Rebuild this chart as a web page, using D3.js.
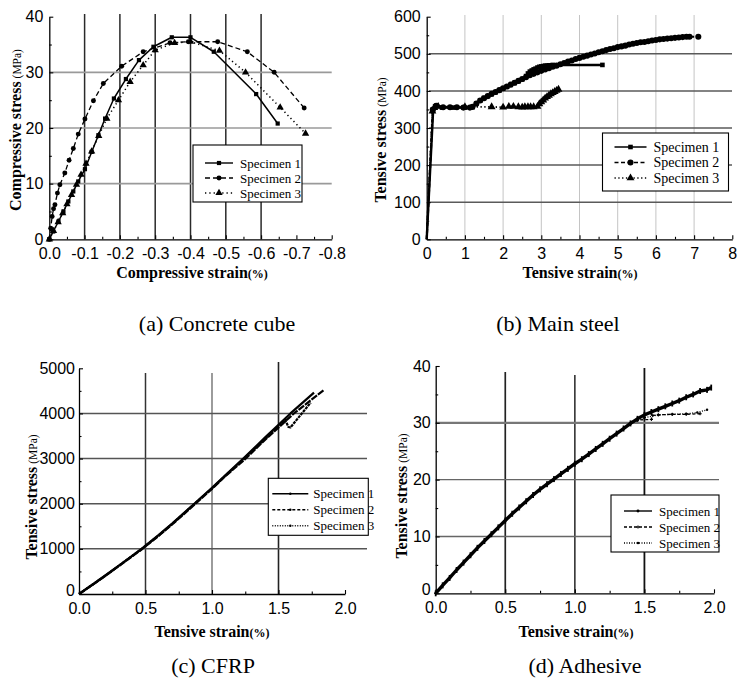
<!DOCTYPE html>
<html>
<head>
<meta charset="utf-8">
<script src="https://cdn.jsdelivr.net/npm/d3@7"></script>
<style>
  body { margin: 0; background: #fff; }
  svg { display: block; }
</style>
</head>
<body>
<svg id="fig" width="738" height="684"></svg>
<script>
// ---------- (a) Concrete cube: compressive stress-strain ----------
const aStrain1 = [0, -0.011, -0.026, -0.04, -0.054, -0.068, -0.082, -0.101, -0.12, -0.139, -0.158, -0.183, -0.217, -0.254, -0.295, -0.347, -0.40, -0.466, -0.586, -0.647];
const aStress1 = [0, 1.4, 3.2, 5.0, 6.8, 8.6, 10.4, 12.6, 15.7, 18.7, 21.7, 25.3, 28.8, 32.2, 34.6, 36.3, 36.3, 33.7, 26.1, 20.8];
const aStrain2 = [0, -0.004, -0.008, -0.012, -0.016, -0.023, -0.03, -0.044, -0.056, -0.068, -0.082, -0.101, -0.125, -0.153, -0.205, -0.266, -0.342, -0.394, -0.477, -0.561, -0.637, -0.722];
const aStress2 = [0, 2.0, 4.1, 5.5, 6.2, 8.3, 9.8, 11.9, 14.2, 16.3, 18.9, 21.6, 24.9, 28.0, 31.1, 33.7, 35.3, 35.5, 35.5, 33.7, 30.0, 23.6];
const aStrain3 = [0, -0.012, -0.025, -0.038, -0.05, -0.063, -0.077, -0.09, -0.104, -0.12, -0.14, -0.163, -0.196, -0.229, -0.266, -0.30, -0.355, -0.40, -0.482, -0.556, -0.654, -0.726];
const aStress3 = [0, 1.5, 3.1, 4.7, 6.3, 8.0, 9.8, 11.6, 13.6, 15.8, 18.6, 21.7, 25.0, 28.3, 31.3, 34.0, 35.3, 35.5, 33.9, 30.0, 23.7, 19.0];
const aXTicks = [0, -0.1, -0.2, -0.3, -0.4, -0.5, -0.6, -0.7, -0.8];
const aYTicks = [0, 10, 20, 30, 40];

// ---------- (b) Main steel: tensile stress-strain ----------
const bStrain1 = [0, 0.17, 0.22, 0.4, 0.7, 1.0, 1.2, 1.3, 1.4, 1.5, 1.6, 1.7, 1.8, 1.9, 2.0, 2.1, 2.2, 2.3, 2.4, 2.5, 2.6, 2.65, 2.7, 2.75, 2.8, 2.85, 2.9, 2.95, 3.0, 3.05, 3.1, 3.15, 3.2, 3.3, 4.6];
const bStress1 = [0, 350, 358, 355, 355, 355, 356, 365, 374, 381, 386, 391, 396, 401, 406, 411, 416, 421, 426, 431, 440, 447, 452, 455, 458, 460, 463, 465, 466, 467, 468, 468, 469, 470, 470];
const bStrain2 = [0, 0.16, 0.25, 0.43, 0.61, 0.79, 0.96, 1.13, 1.2, 1.3, 1.4, 1.5, 1.6, 1.7, 1.8, 1.9, 2.0, 2.1, 2.2, 2.3, 2.4, 2.5, 2.6, 2.7, 2.8, 2.9, 3.0, 3.1, 3.2, 3.3, 3.4, 3.5, 3.6, 3.7, 3.8, 3.9, 4.0, 4.1, 4.2, 4.3, 4.4, 4.5, 4.6, 4.7, 4.8, 4.9, 5.0, 5.1, 5.2, 5.3, 5.4, 5.5, 5.6, 5.7, 5.8, 5.9, 6.0, 6.1, 6.2, 6.3, 6.4, 6.5, 6.6, 6.7, 6.8, 6.88, 7.11];
const bStress2 = [0, 350, 360, 356, 356, 356, 355, 355, 357, 366, 374, 380, 386, 392, 397, 402, 407, 412, 417, 422, 427, 432, 437, 442, 446, 450, 454, 458, 461, 465, 468, 472, 475, 479, 482, 486, 489, 492, 495, 498, 501, 504, 507, 510, 513, 515, 518, 520, 522, 525, 527, 529, 531, 532, 534, 536, 537, 539, 540, 541, 542, 543, 544, 545, 546, 546, 546];
const bStrain3 = [0, 0.15, 0.2, 0.3, 1.0, 1.7, 2.0, 2.15, 2.27, 2.4, 2.5, 2.57, 2.65, 2.72, 2.8, 2.9, 2.95, 3.0, 3.05, 3.1, 3.15, 3.2, 3.25, 3.3, 3.35, 3.4, 3.45];
const bStress3 = [0, 345, 355, 358, 357, 357, 356, 358, 358, 357, 356, 357, 357, 357, 357, 358, 365, 370, 375, 380, 384, 388, 392, 395, 398, 401, 404];
const bXTicks = [0, 1, 2, 3, 4, 5, 6, 7, 8];
const bYTicks = [0, 100, 200, 300, 400, 500, 600];

// ---------- (c) CFRP: tensile stress-strain ----------
const cStrain1 = [0, 0.1, 0.2, 0.3, 0.47, 0.6, 0.7, 0.867, 1.0, 1.1, 1.235, 1.4, 1.59, 1.767];
const cStress1 = [0, 205, 415, 630, 1000, 1310, 1560, 2000, 2350, 2630, 3000, 3470, 4000, 4460];
const cStrain2 = [0, 0.1, 0.2, 0.3, 0.47, 0.6, 0.7, 0.87, 1.0, 1.1, 1.25, 1.4, 1.62, 1.842];
const cStress2 = [0, 200, 405, 620, 985, 1290, 1540, 1985, 2330, 2610, 2990, 3420, 4010, 4520];
const cStrain3 = [0, 0.1, 0.2, 0.3, 0.47, 0.6, 0.7, 0.867, 1.0, 1.1, 1.24, 1.4, 1.55, 1.575, 1.59, 1.742];
const cStress3 = [0, 205, 410, 625, 995, 1300, 1550, 1995, 2340, 2620, 2995, 3440, 3860, 3700, 3690, 4240];
const cXTicks = [0, 0.5, 1.0, 1.5, 2.0];
const cYTicks = [0, 1000, 2000, 3000, 4000, 5000];

// ---------- (d) Adhesive: tensile stress-strain ----------
const dStrain1 = [0, 0.05, 0.1, 0.15, 0.2, 0.25, 0.3, 0.35, 0.4, 0.45, 0.5, 0.55, 0.6, 0.65, 0.7, 0.75, 0.8, 0.85, 0.9, 0.95, 1.0, 1.05, 1.1, 1.15, 1.2, 1.25, 1.3, 1.35, 1.4, 1.45, 1.5, 1.55, 1.6, 1.65, 1.7, 1.75, 1.8, 1.85, 1.9, 1.95, 1.98];
const dStress1 = [0, 1.4, 2.7, 4.1, 5.4, 6.7, 8.0, 9.2, 10.4, 11.6, 12.8, 14.0, 15.1, 16.2, 17.3, 18.3, 19.2, 20.1, 21.0, 21.9, 22.8, 23.6, 24.5, 25.4, 26.3, 27.2, 28.1, 29.0, 29.9, 30.7, 31.4, 31.9, 32.4, 32.9, 33.4, 33.9, 34.5, 35.0, 35.6, 35.8, 36.2];
const dStrain2 = [0, 0.1, 0.2, 0.3, 0.4, 0.5, 0.6, 0.7, 0.8, 0.9, 1.0, 1.1, 1.2, 1.3, 1.4, 1.45, 1.55, 1.56, 1.6, 1.7, 1.8, 1.9];
const dStress2 = [0, 2.7, 5.4, 8.0, 10.4, 12.8, 15.1, 17.3, 19.2, 21.0, 22.8, 24.5, 26.3, 28.1, 29.9, 30.5, 30.6, 31.3, 31.4, 31.5, 31.5, 31.6];
const dStrain3 = [0, 0.1, 0.2, 0.3, 0.4, 0.5, 0.6, 0.7, 0.8, 0.9, 1.0, 1.1, 1.2, 1.3, 1.4, 1.5, 1.6, 1.7, 1.8, 1.88, 1.95];
const dStress3 = [0, 2.7, 5.4, 8.0, 10.4, 12.8, 15.1, 17.3, 19.2, 21.0, 22.8, 24.5, 26.3, 28.1, 29.9, 30.9, 31.4, 31.5, 31.6, 31.8, 32.3];
const dXTicks = [0, 0.5, 1.0, 1.5, 2.0];
const dYTicks = [0, 10, 20, 30, 40];

const legendLabels = ["Specimen 1", "Specimen 2", "Specimen 3"];
const captions = ["(a) Concrete cube", "(b) Main steel", "(c) CFRP", "(d) Adhesive"];

// ---------- drawing helpers ----------
const svg = d3.select("#fig");
const SANS = "'Liberation Sans', Arial, sans-serif";
const SERIF = "'Liberation Serif', 'Times New Roman', serif";

const zip = (xs, ys) => xs.map((v, i) => [v, ys[i]]);

function marker(g, type, px, py, s) {
  if (!type) return;
  if (type === "tick") {
    g.append("rect").attr("x", px - 0.9).attr("y", py - s).attr("width", 1.8).attr("height", 2 * s).attr("fill", "#000");
    return;
  }
  const sym = {
    square: d3.symbolSquare, circle: d3.symbolCircle,
    triangle: d3.symbolTriangle, plus: d3.symbolCross, dot: d3.symbolCircle
  }[type];
  g.append("path")
    .attr("d", d3.symbol().type(sym).size(s * s * 4)())
    .attr("transform", `translate(${px},${py})`)
    .attr("fill", "#000");
}

function drawPanel(cfg) {
  const g = svg.append("g");
  const x = d3.scaleLinear().domain(cfg.xDomain).range([cfg.left, cfg.right]);
  const y = d3.scaleLinear().domain(cfg.yDomain).range([cfg.bottom, cfg.top]);

  // grid lines
  cfg.vGrid.forEach(v => {
    g.append("line")
      .attr("x1", x(v.v)).attr("x2", x(v.v))
      .attr("y1", v.y1).attr("y2", cfg.bottom)
      .attr("stroke", v.c).attr("stroke-width", v.w);
  });
  cfg.hGrid.forEach(h => {
    g.append("line")
      .attr("x1", cfg.hx1 ?? cfg.left).attr("x2", h.x2)
      .attr("y1", y(h.v)).attr("y2", y(h.v))
      .attr("stroke", h.c).attr("stroke-width", h.w);
  });

  // axes with inward ticks
  const xAxis = g.append("g").attr("transform", `translate(0,${cfg.bottom})`)
    .call(d3.axisBottom(x).tickValues(cfg.xTicks).tickFormat(cfg.xFmt)
      .tickSizeInner(-4).tickSizeOuter(0).tickPadding(cfg.xPad));
  g.append("g").attr("transform", `translate(0,${cfg.bottom})`)
    .call(d3.axisBottom(x).tickValues(cfg.xMinor).tickFormat("")
      .tickSizeInner(-2.5).tickSizeOuter(0))
    .call(s => s.select(".domain").remove());
  const yAxis = g.append("g").attr("transform", `translate(${cfg.left},0)`)
    .call(d3.axisLeft(y).tickValues(cfg.yTicks).tickFormat(d3.format("d"))
      .tickSizeInner(-4).tickSizeOuter(0).tickPadding(cfg.yPad));
  g.append("g").attr("transform", `translate(${cfg.left},0)`)
    .call(d3.axisLeft(y).tickValues(cfg.yMinor).tickFormat("")
      .tickSizeInner(-2.5).tickSizeOuter(0))
    .call(s => s.select(".domain").remove());
  g.selectAll(".domain").attr("stroke", "#000").attr("stroke-width", 1.3);
  g.selectAll(".tick line").attr("stroke", "#000").attr("stroke-width", 1.1);
  [xAxis, yAxis].forEach(a => a.selectAll("text")
    .attr("font-family", SANS).attr("font-size", 16).attr("fill", "#000"));
  // lift the origin label on the stress axis clear of the strain labels
  yAxis.selectAll(".tick text").filter(d => d === 0).attr("y", -cfg.zeroLift);

  // axis titles
  const yt = g.append("text")
    .attr("transform", `translate(${cfg.yTitleX},${cfg.yTitleY}) rotate(-90)`)
    .attr("text-anchor", "middle").attr("font-family", SERIF).attr("fill", "#000");
  yt.append("tspan").attr("font-weight", "bold").attr("font-size", 16).text(cfg.yTitle);
  yt.append("tspan").attr("font-size", 11.5).text(" (MPa)");
  const xt = g.append("text")
    .attr("x", cfg.xTitleX).attr("y", cfg.xTitleY)
    .attr("text-anchor", "middle").attr("font-family", SERIF).attr("fill", "#000");
  xt.append("tspan").attr("font-weight", "bold").attr("font-size", 16).text(cfg.xTitle);
  xt.append("tspan").attr("font-size", 12).attr("font-weight", "bold").text("(%)");

  // data series
  const line = d3.line().x(d => x(d[0])).y(d => y(d[1]));
  cfg.series.forEach(s => {
    const pts = zip(s.xs, s.ys);
    g.append("path").attr("d", line(pts))
      .attr("fill", "none").attr("stroke", "#000")
      .attr("stroke-width", s.w).attr("stroke-dasharray", s.dash || null)
      .attr("stroke-linejoin", "round");
    if (s.mark) {
      const mg = g.append("g");
      pts.slice(s.skipFirst ? 1 : 0).forEach(p => marker(mg, s.mark, x(p[0]), y(p[1]), s.ms));
    }
  });

  // legend
  const L = cfg.legend;
  g.append("rect").attr("x", L.x).attr("y", L.y).attr("width", L.w).attr("height", L.h)
    .attr("fill", "#fff").attr("stroke", "#000").attr("stroke-width", 1.1);
  cfg.series.forEach((s, i) => {
    const ry = L.y + L.row0 + i * L.dy;
    g.append("line").attr("x1", L.x + L.lx1).attr("x2", L.x + L.lx2)
      .attr("y1", ry).attr("y2", ry).attr("stroke", "#000")
      .attr("stroke-width", Math.min(s.w, 1.4)).attr("stroke-dasharray", s.legDash || s.dash || null);
    marker(g, s.legMark || s.mark, L.x + (L.lx1 + L.lx2) / 2, ry, s.legMs || s.ms);
    g.append("text").attr("x", L.x + L.tx).attr("y", ry + 4.5)
      .attr("font-family", SERIF).attr("font-size", L.fs).attr("fill", "#000")
      .text(legendLabels[i]);
  });

  // caption
  svg.append("text").attr("x", cfg.capX).attr("y", cfg.capY)
    .attr("text-anchor", "middle").attr("font-family", SERIF).attr("font-size", 22)
    .attr("fill", "#000").text(cfg.caption);
}

const fmt1 = d => d === 0 ? "0.0" : d.toFixed(1);

// (a)
drawPanel({
  left: 49.3, right: 331.7, top: 16.7, bottom: 239.3,
  xDomain: [0, -0.8], yDomain: [0, 40],
  xTicks: aXTicks, xFmt: fmt1, xMinor: d3.range(1, 16, 2).map(k => -k * 0.05),
  yTicks: aYTicks, yMinor: [5, 15, 25, 35], xPad: 8, yPad: 6, zeroLift: 0,
  vGrid: [-0.1, -0.2, -0.3, -0.4, -0.5, -0.6].map(v => ({ v, y1: 14, c: "#2a2a2a", w: 1.5 })),
  hGrid: [10, 20, 30].map(v => ({ v, x2: 331.7, c: "#9a9a9a", w: 1.6 })),
  yTitle: "Compressive stress", yTitleX: 21, yTitleY: 130,
  xTitle: "Compressive strain", xTitleX: 192, xTitleY: 278,
  series: [
    { xs: aStrain1, ys: aStress1, w: 1.5, mark: "square", ms: 2.1 },
    { xs: aStrain2, ys: aStress2, w: 1.3, dash: "5,3", mark: "circle", ms: 2.2 },
    { xs: aStrain3, ys: aStress3, w: 1.5, dash: "1.3,3", mark: "triangle", ms: 2.4 }
  ],
  legend: { x: 193, y: 145, w: 109, h: 57, row0: 18, dy: 15, lx1: 12, lx2: 40, tx: 47, fs: 13 },
  caption: captions[0], capX: 217, capY: 331
});

// (b)
drawPanel({
  left: 426.7, right: 732.3, top: 16.7, bottom: 239.3,
  xDomain: [0, 8], yDomain: [0, 600],
  xTicks: bXTicks, xFmt: d3.format("d"), xMinor: d3.range(0.5, 8, 1),
  yTicks: bYTicks, yMinor: [50, 150, 250, 350, 450, 550], xPad: 8, yPad: 6, zeroLift: 0,
  vGrid: [1, 2, 3, 4, 5, 6, 7].map(v => ({ v, y1: 15, c: "#c4c4c4", w: 1 })),
  hGrid: [100, 200, 300, 400, 500].map(v => ({ v, x2: 732, c: "#5a5a5a", w: 1.5 })),
  hx1: 429,
  yTitle: "Tensive stress", yTitleX: 386, yTitleY: 140,
  xTitle: "Tensive strain", xTitleX: 580, xTitleY: 278,
  series: [
    { xs: bStrain1, ys: bStress1, w: 2.4, mark: "square", ms: 2.3, skipFirst: true, legW: 1.4 },
    { xs: bStrain2, ys: bStress2, w: 2.2, dash: "4,2.5", mark: "circle", ms: 2.7, skipFirst: true },
    { xs: bStrain3, ys: bStress3, w: 1.8, dash: "1.3,2.5", mark: "triangle", ms: 2.6, skipFirst: true }
  ],
  legend: { x: 602.5, y: 133, w: 126, h: 58, row0: 14, dy: 15.5, lx1: 12, lx2: 44, tx: 51, fs: 14 },
  caption: captions[1], capX: 558, capY: 331
});

// (c)
drawPanel({
  left: 79, right: 345, top: 368.3, bottom: 594,
  xDomain: [0, 2], yDomain: [0, 5000],
  xTicks: cXTicks, xFmt: fmt1, xMinor: d3.range(0.25, 2, 0.5),
  yTicks: cYTicks, yMinor: [500, 1500, 2500, 3500, 4500], xPad: 9, yPad: 4, zeroLift: 4,
  vGrid: [{ v: 0.5, y1: 373, c: "#333", w: 1.5 }, { v: 1.0, y1: 373, c: "#666", w: 1.3 }, { v: 1.5, y1: 362, c: "#222", w: 1.6 }],
  hGrid: [1000, 2000, 3000, 4000].map(v => ({ v, x2: 367, c: "#555", w: 1.5 })),
  yTitle: "Tensive stress", yTitleX: 37, yTitleY: 497,
  xTitle: "Tensive strain", xTitleX: 212, xTitleY: 637,
  series: [
    { xs: cStrain1, ys: cStress1, w: 2.2, legMark: "dot", legMs: 1.1 },
    { xs: cStrain2, ys: cStress2, w: 2.2, dash: "7,1.2", legDash: "3,2", legMark: "dot", legMs: 1.1 },
    { xs: cStrain3, ys: cStress3, w: 2.2, dash: "3,0.8", legDash: "1,1.5", legMark: "dot", legMs: 1.1 }
  ],
  legend: { x: 268.3, y: 478.3, w: 100, h: 57, row0: 15.5, dy: 16, lx1: 4, lx2: 40, tx: 45, fs: 13 },
  caption: captions[2], capX: 213, capY: 673
});

// (d)
drawPanel({
  left: 435.7, right: 714, top: 366, bottom: 593.3,
  xDomain: [0, 2], yDomain: [0, 40],
  xTicks: dXTicks, xFmt: fmt1, xMinor: d3.range(0.25, 2, 0.5),
  yTicks: dYTicks, yMinor: [5, 15, 25, 35], xPad: 8, yPad: 5, zeroLift: 4,
  vGrid: [{ v: 0.5, y1: 372, c: "#222", w: 1.7 }, { v: 1.0, y1: 375, c: "#333", w: 1.6 }, { v: 1.5, y1: 368, c: "#111", w: 1.8 }],
  hGrid: [{ v: 10, x2: 719, c: "#666", w: 1.4 }, { v: 20, x2: 719, c: "#666", w: 1.4 }, { v: 30, x2: 719, c: "#777", w: 2.4 }],
  yTitle: "Tensive stress", yTitleX: 407, yTitleY: 496,
  xTitle: "Tensive strain", xTitleX: 576, xTitleY: 637,
  series: [
    { xs: dStrain1, ys: dStress1, w: 3.4, mark: "tick", ms: 3.0, legMark: "dot", legMs: 1.3 },
    { xs: dStrain2, ys: dStress2, w: 1.3, dash: "3,2", mark: "plus", ms: 1.2 },
    { xs: dStrain3, ys: dStress3, w: 1.3, dash: "1,1.5", mark: "dot", ms: 1.1 }
  ],
  legend: { x: 611, y: 495, w: 108, h: 57, row0: 16, dy: 16, lx1: 13, lx2: 41, tx: 48, fs: 13 },
  caption: captions[3], capX: 585, capY: 673
});
</script>
</body>
</html>
